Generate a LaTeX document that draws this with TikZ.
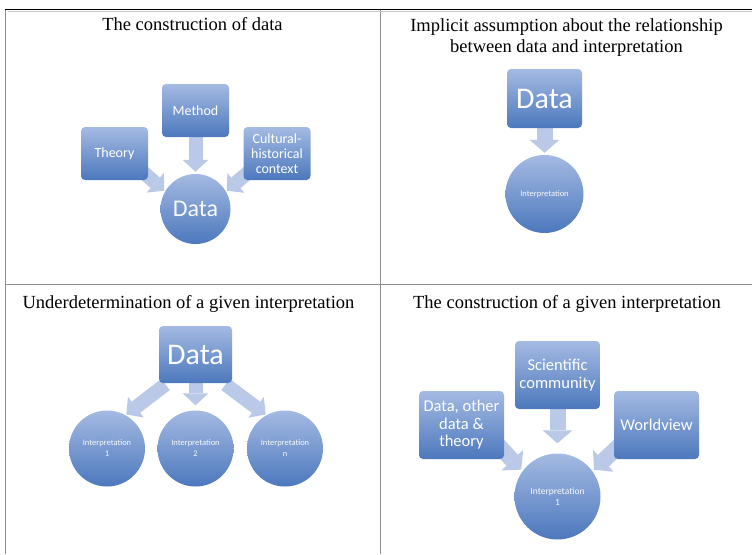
\documentclass[tikz,border=0pt]{standalone}
\usepackage{fontspec}
\setmainfont{Liberation Serif}
\newfontfamily\lblfont{Carlito}
\usetikzlibrary{arrows.meta}
\definecolor{boxtop}{RGB}{164,186,226}
\definecolor{boxbot}{RGB}{76,120,189}
\definecolor{arrowc}{RGB}{186,201,232}
\definecolor{gridc}{RGB}{140,140,140}
\pgfdeclarelayer{bg}
\pgfsetlayers{bg,main}
\tikzset{
  title/.style={font=\fontsize{18.5}{20.5}\selectfont, align=center, inner sep=0pt},
  box/.style={rectangle, rounded corners=4pt, top color=boxtop, bottom color=boxbot,
    text=white, font=\lblfont\fontsize{14}{15}\selectfont, align=center, inner sep=0pt,
    minimum width=67pt, minimum height=53pt},
  disc/.style={circle, top color=boxtop, bottom color=boxbot, text=white!92!boxtop,
    font=\lblfont\fontsize{8.5}{11}\selectfont, align=center, inner sep=0pt},
  blockarrow/.style={draw=arrowc, line width=14pt,
    -{Triangle[width=26pt,length=12pt,line width=0pt]}},
  widearrow/.style={draw=arrowc, line width=16pt,
    -{Triangle[width=30pt,length=13pt,line width=0pt]}},
  gridline/.style={draw=gridc, line width=1.4pt}
}
\begin{document}
\begin{tikzpicture}[x=1pt,y=-1pt]
\useasboundingbox (0,0) rectangle (752,554);
% table rules
\draw[gridline] (5.5,9.5) -- (5.5,554);
\draw[gridline] (380.5,9.5) -- (380.5,554);
\draw[gridline] (5.5,284.3) -- (752,284.3);
\draw[draw=gridc!50, line width=0.6pt] (7.5,11.5) -- (752,11.5);
\draw[black, line width=1.3pt] (5,9.5) -- (752,9.5);

% panel 1
\node[title, anchor=base] (t1) at (192.5,30) {The construction of data};
\node[box] (method) at (195.5,110.5) {Method};
\node[box] (theory) at (114.5,153.5) {Theory};
\node[box] (cult) at (277,153.5) {Cultural-\\historical\\context};
\node[disc, minimum size=70pt, font=\lblfont\fontsize{24}{26}\selectfont] (data1) at (195.5,209) {Data};

% panel 2
\node[title] (t2) at (566.5,37.5) {Implicit assumption about the relationship\\between data and interpretation};
\node[box, minimum width=75pt, minimum height=59pt, font=\lblfont\fontsize{30}{32}\selectfont] (data2) at (544.5,98.5) {Data};
\node[disc, minimum size=78pt] (int2) at (544.5,194) {Interpretation};

% panel 3
\node[title, anchor=base] (t3) at (188.5,308) {Underdetermination of a given interpretation};
\node[box, minimum width=73pt, minimum height=57pt, font=\lblfont\fontsize{30}{32}\selectfont] (data3) at (195.5,354.5) {Data};
\node[disc, minimum size=76pt] (i31) at (107,448.5) {Interpretation\\1};
\node[disc, minimum size=76pt] (i32) at (195.5,448.5) {Interpretation\\2};
\node[disc, minimum size=76pt] (i3n) at (285,448.5) {Interpretation\\n};

% panel 4
\node[title, anchor=base] (t4) at (567,308) {The construction of a given interpretation};
\node[box, minimum width=85pt, minimum height=68pt, font=\lblfont\fontsize{16.5}{18.5}\selectfont] (sci) at (557.5,375) {Scientific\\community};
\node[box, minimum width=85pt, minimum height=68pt, font=\lblfont\fontsize{16.5}{17.5}\selectfont] (dot) at (461.5,425) {Data, other\\data \&\\theory};
\node[box, minimum width=85pt, minimum height=68pt, font=\lblfont\fontsize{16.5}{18}\selectfont] (world) at (656.5,425) {Worldview};
\node[disc, minimum size=86pt, font=\lblfont\fontsize{9.5}{11}\selectfont] (i4) at (557.5,496.5) {Interpretation\\1};

% arrows
\begin{pgfonlayer}{bg}
\draw[blockarrow, shorten >=2pt] (method.south) -- (data1.north);
\draw[blockarrow, shorten >=1pt] ([shift={(-5,-8)}]theory.south east) -- (data1.150);
\draw[blockarrow, shorten >=1pt] ([shift={(5,-8)}]cult.south west) -- (data1.30);
\draw[widearrow, shorten >=2pt] (data2.south) -- (int2.north);
\draw[blockarrow, shorten >=1pt] ([shift={(-30,30)}]data3.center) -- (i31.61);
\draw[blockarrow, shorten >=5pt] (data3.south) -- (i32.north);
\draw[blockarrow, shorten >=1pt] ([shift={(30,30)}]data3.center) -- (i3n.119);
\draw[widearrow, shorten >=10pt] (sci.south) -- (i4.north);
\draw[widearrow, shorten >=2pt] ([shift={(-6,-14)}]dot.south east) -- (i4.144);
\draw[widearrow, shorten >=2pt] ([shift={(6,-14)}]world.south west) -- (i4.36);
\end{pgfonlayer}
\end{tikzpicture}
\end{document}
